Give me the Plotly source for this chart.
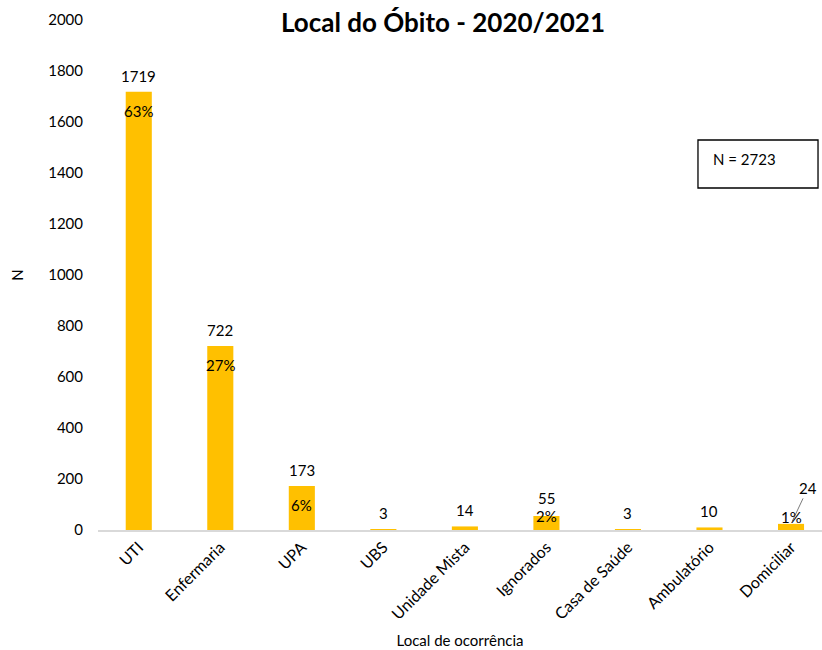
import plotly.graph_objects as go

# Deaths by place of occurrence, 2020/2021
categories = ["UTI", "Enfermaria", "UPA", "UBS", "Unidade Mista", "Ignorados",
              "Casa de Saúde", "Ambulatório", "Domiciliar"]
deaths = [1719, 722, 173, 3, 14, 55, 3, 10, 24]
pct_labels = ["63%", "27%", "6%", "", "", "2%", "", "", "1%"]
total_label = "N = 2723"
y_ticks = list(range(0, 2001, 200))

FONT = "Lato, Calibri, sans-serif"
BAR = "#FFC000"

fig = go.Figure(go.Bar(
    x=list(range(len(categories))),
    y=deaths,
    marker=dict(color=BAR, line=dict(width=0)),
    width=0.32,
    hoverinfo="skip",
))

annotations = []
for i, (v, p) in enumerate(zip(deaths, pct_labels)):
    leader = categories[i] == "Domiciliar"
    if leader:
        # value label pulled out with a thin leader line
        annotations.append(dict(
            x=i, y=v, xref="x", yref="y", text=str(v), showarrow=True,
            arrowhead=0, arrowwidth=0.8, arrowcolor="#595959", standoff=3,
            ax=17, ay=-36, font=dict(family=FONT, size=15, color="#000")))
    else:
        annotations.append(dict(
            x=i, y=v, xref="x", yref="y", text=str(v), showarrow=False,
            yanchor="bottom", yshift=7 if p and v < 100 else 5,
            font=dict(family=FONT, size=15, color="#000")))
    if p:
        shift = -8 if v > 100 else (18 if leader else 11)
        annotations.append(dict(
            x=i, y=v, xref="x", yref="y", text=p, showarrow=False,
            yanchor="top", yshift=shift,
            font=dict(family=FONT, size=15, color="#000")))

# total box text
annotations.append(dict(
    x=0.8467, y=0.7265, xref="paper", yref="paper", text=total_label,
    showarrow=False, xanchor="left", yanchor="middle",
    font=dict(family=FONT, size=15, color="#000")))

fig.update_layout(
    width=822, height=650,
    margin=dict(l=98, r=0, t=20, b=120),
    paper_bgcolor="white", plot_bgcolor="white",
    showlegend=False,
    title=dict(text="<b>Local do Óbito - 2020/2021</b>",
               x=443 / 822, xanchor="center", xref="container",
               y=1 - 23 / 650, yanchor="middle", yref="container",
               font=dict(family=FONT, size=26, color="#000")),
    xaxis=dict(
        tickmode="array", tickvals=list(range(len(categories))),
        ticktext=categories, tickangle=-45,
        range=[-0.5, 8.38],
        showgrid=False, zeroline=False,
        showline=True, linecolor="#D9D9D9", linewidth=1.5,
        ticks="", tickfont=dict(family=FONT, size=16, color="#000"),
        title=dict(text="Local de ocorrência", standoff=14,
                   font=dict(family=FONT, size=15, color="#000")),
        fixedrange=True,
    ),
    yaxis=dict(
        range=[0, 2000], tickvals=y_ticks,
        showgrid=False, zeroline=False, showline=False,
        ticks="", ticklabelstandoff=14,
        tickfont=dict(family=FONT, size=15, color="#000"),
        title=dict(text="N", standoff=20,
                   font=dict(family=FONT, size=15, color="#000")),
        fixedrange=True,
    ),
    shapes=[dict(type="rect", xref="paper", yref="paper",
                 x0=0.8287, x1=0.9945, y0=0.6706, y1=0.7647,
                 line=dict(color="#000", width=1.3), fillcolor="rgba(0,0,0,0)")],
    annotations=annotations,
)

fig.write_html("out.html")
